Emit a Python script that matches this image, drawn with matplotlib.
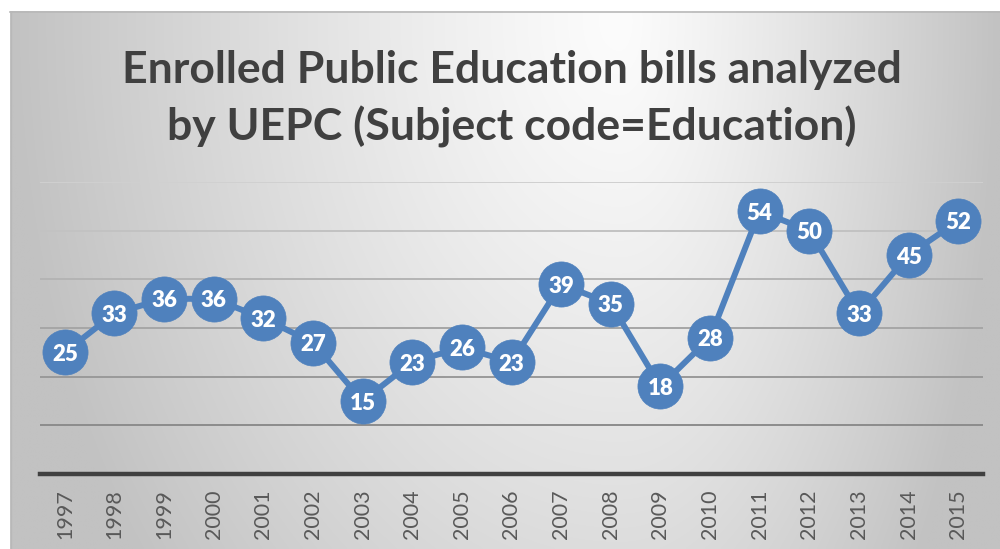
import numpy as np
import matplotlib
matplotlib.use("Agg")
import matplotlib.pyplot as plt

years = ["1997", "1998", "1999", "2000", "2001", "2002", "2003", "2004", "2005", "2006",
         "2007", "2008", "2009", "2010", "2011", "2012", "2013", "2014", "2015"]
bills = [25, 33, 36, 36, 32, 27, 15, 23, 26, 23, 39, 35, 18, 28, 54, 50, 33, 45, 52]
title_lines = ["Enrolled Public Education bills analyzed", "by UEPC (Subject code=Education)"]

W, H = 1000, 549
fig = plt.figure(figsize=(W / 100, H / 100), dpi=100)
fig.patch.set_facecolor("white")

# chart area background (radial-ish gradient)
bg = fig.add_axes([10 / W, 0, (W - 10) / W, (H - 11) / H])
bg.set_axis_off()
xs = np.linspace(10, 1000, 400)
ys = np.linspace(11, 549, 220)
X, Y = np.meshgrid(xs, ys)
cx, cy = 620.0, 20.0
nx = np.where(X < cx, (X - cx) / (cx - 10), (X - cx) / (1000 - cx))
ny = (Y - cy) / (549 - cy) * 0.6
d = np.minimum(np.sqrt(nx ** 2 + ny ** 2), 1.0)
shade = (252 - 58 * d ** 1.2) / 255.0
img = np.dstack([shade, shade, shade])
bg.imshow(img, aspect="auto", extent=[0, 1, 0, 1], origin="upper", interpolation="bilinear")
bg.set_xlim(0, 1)
bg.set_ylim(0, 1)
# top / left border lines
fig.add_artist(plt.Line2D([10 / W, 1.0], [(H - 11.5) / H, (H - 11.5) / H], color="#b8b8b8", lw=1.2))
fig.add_artist(plt.Line2D([10.5 / W, 10.5 / W], [0, (H - 11.5) / H], color="#b8b8b8", lw=1.0))

ax = fig.add_axes([40 / W, (H - 474) / H, (983 - 40) / W, (474 - 182) / H])
ax.patch.set_alpha(0)
x = np.arange(len(years))
ax.plot(x, bills, color="#4F81BD", lw=4.3, marker="o", markersize=32.5,
        markerfacecolor="#4F81BD", markeredgecolor="#4F81BD", markeredgewidth=0.5,
        solid_joinstyle="round", zorder=3)
for xi, v in zip(x, bills):
    ax.text(xi, v, str(v), ha="center", va="center_baseline", color="white",
            fontsize=16, fontweight="heavy", family="Lato", zorder=4)

ax.set_xlim(-0.5, len(years) - 0.5)
ax.set_ylim(0, 60)
ax.set_yticks([10, 20, 30, 40, 50, 60])
ax.yaxis.grid(True, lw=1.4)
grid_cols = ["#8c8c8c", "#999999", "#a6a6a6", "#b4b4b4", "#c2c2c2", "#d0d0d0"]
for gl, c in zip(ax.yaxis.get_gridlines(), grid_cols):
    gl.set_color(c)
ax.set_axisbelow(True)
ax.tick_params(axis="y", left=False, labelleft=False)
ax.set_xticks(x)
ax.set_xticklabels(years, rotation=90, fontsize=15.5, color="#595959", family="Lato")
ax.tick_params(axis="x", length=0, pad=11)
for s in ["top", "right", "left"]:
    ax.spines[s].set_visible(False)
ax.spines["bottom"].set_color("#404040")
ax.spines["bottom"].set_linewidth(3.2)

fig.text(512 / W, (H - 83) / H, title_lines[0], ha="center", va="baseline",
         fontsize=32, fontweight="bold", color="#404040", family="Lato")
fig.text(512 / W, (H - 140) / H, title_lines[1], ha="center", va="baseline",
         fontsize=32, fontweight="bold", color="#404040", family="Lato")

fig.savefig("out.png", dpi=100)
